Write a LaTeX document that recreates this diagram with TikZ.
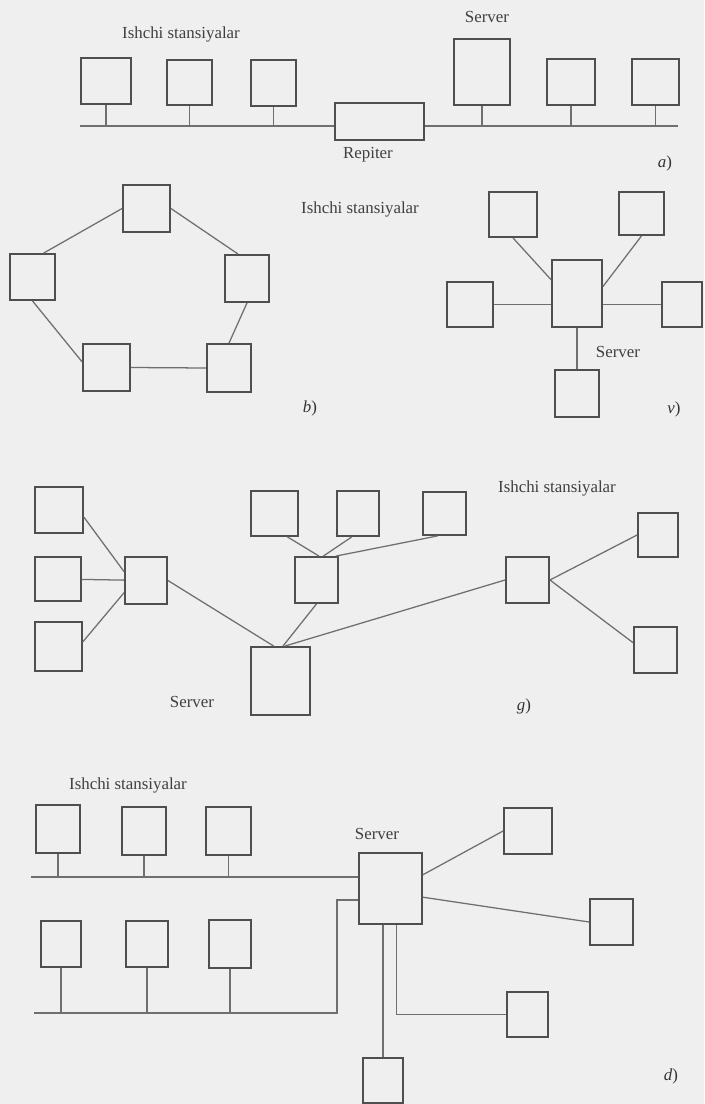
\documentclass[tikz,border=0pt]{standalone}
\usepackage{fontspec}
\setmainfont{Liberation Serif}
\usetikzlibrary{calc}
\definecolor{scanInk}{HTML}{4f4f4f}
\definecolor{scanWire}{HTML}{6f6f6f}
\definecolor{scanPaper}{HTML}{efefef}
\tikzset{
  pc/.style={draw=scanInk, line width=1.3pt, inner sep=0pt},
  wh/.style 2 args={minimum width=#1*0.025cm, minimum height=#2*0.025cm},
  cable/.style={draw=scanWire, line width=0.9pt},
  lbl/.style={font=\fontsize{12}{14}\selectfont, text=black!75, inner sep=1pt},
  tag/.style={font=\fontsize{12}{14}\selectfont, text=black!80, inner sep=1pt},
}
\begin{document}
\begin{tikzpicture}[x=0.025cm,y=-0.025cm]
\fill[scanPaper] (0,0) rectangle (704,1104);
\useasboundingbox (0,0) rectangle (704,1104);

% a) common bus with repeater
\node[lbl] (aWs) at (181,34) {Ishchi stansiyalar};
\node[lbl] (aSrvT) at (487,17) {Server};
\foreach \n/\x/\y/\w/\h in {a1/106/81/50/46, a2/189.5/82.5/45/45, a3/273.5/83/45/46,
    aSrv/482/72/56/66, a5/571/82/48/46, a6/655.5/82/47/46}
  \node[pc,wh={\w}{\h}] (\n) at (\x,\y) {};
\node[pc,wh={89}{37}] (rep) at (379.5,121.5) {};
\node[lbl] (repT) at (368,155) {Repiter};
\node[tag] (aTag) at (665,163) {\textit{a})};
\coordinate (busA) at (80,126);
\coordinate (busB) at (678,126);
\draw[cable] (busA) -- (busA -| rep.west);
\draw[cable] (rep.east |- busB) -- (busB);
\foreach \n in {a1,a2,a3,aSrv,a5,a6}
  \draw[cable] (\n.south) -- (\n.south |- busA);

% b) ring
\node[lbl] (bWs) at (360,209) {Ishchi stansiyalar};
\foreach \n/\x/\y/\w/\h in {bt/146.5/208.5/47/47, bl/32.5/277/45/46, br/247/278.5/44/47,
    bbl/106.5/367.5/47/47, bbr/229/368/44/48}
  \node[pc,wh={\w}{\h}] (\n) at (\x,\y) {};
\draw[cable] (bt.west) -- (bl.65);
\draw[cable] (bt.east) -- (br.110);
\draw[cable] (bl.south) -- (bbl.167);
\draw[cable] (br.south) -- (bbr.north);
\draw[cable] (bbl.east) -- (bbr.west);
\node[tag] (bTag) at (310,408) {\textit{b})};

% v) star
\foreach \n/\x/\y/\w/\h in {vtl/513/214.5/48/45, vtr/641.5/213.5/45/43, vc/577/293.5/50/67,
    vl/470/304.5/46/45, vr/682/304.5/40/45, vb/577/393.5/44/47}
  \node[pc,wh={\w}{\h}] (\n) at (\x,\y) {};
\draw[cable] (vtl.south) -- (vc.152);
\draw[cable] (vtr.south) -- (vc.15);
\draw[cable] (vl.east) -- (vl.east -| vc.west);
\draw[cable] (vr.west -| vc.east) -- (vr.west);
\draw[cable] (vc.south) -- (vb.north);
\node[lbl] (vSrvT) at (618,352) {Server};
\node[tag] (vTag) at (674,409) {\textit{v})};

% g) tree
\node[lbl] (gWs) at (557,488) {Ishchi stansiyalar};
\foreach \n/\x/\y/\w/\h in {gl1/59/510/48/46, gl2/58/579/46/44, gl3/58.5/646.5/47/49,
    gh1/146/580.5/42/47, gt1/274.5/513.5/47/45, gt2/358/513.5/42/45, gt3/444.5/513.5/43/43,
    gh2/316.5/580/43/46, gsrv/280.5/681/59/68, gh3/527.5/580/43/46,
    gr1/658/535/40/44, gr2/655.5/650/43/46}
  \node[pc,wh={\w}{\h}] (\n) at (\x,\y) {};
\draw[cable] (gl1.-16) -- (gh1.158);
\draw[cable] (gl2) -- (gh1);
\draw[cable] (gl3.11) -- (gh1.-151);
\draw[cable] (gh1.east) -- (gsrv.101);
\draw[cable] (gt1.-61) -- (gh2.84);
\draw[cable] (gt2.-105) -- (gh2.74);
\draw[cable] (gt3.-107) -- (gh2.51);
\draw[cable] (gh2.south) -- (gsrv.86);
\draw[cable] (gsrv.83) -- (gh3.west);
\draw[cable] (gh3.east) -- (gr1.west);
\draw[cable] (gh3.east) -- (gr2.162);
\node[lbl] (gSrvT) at (192,702) {Server};
\node[tag] (gTag) at (524,706) {\textit{g})};

% d) mixed
\node[lbl] (dWs) at (128,785) {Ishchi stansiyalar};
\node[lbl] (dSrvT) at (377,834) {Server};
\foreach \n/\x/\y/\w/\h in {dt1/58/829/44/48, dt2/144/831/44/48, dt3/228.5/831/45/48,
    dsrv/390.5/888.5/63/71, dr1/528/831/48/46, dr2/611.5/922/43/46, dr3/527.5/1014.5/41/45,
    dbot/383/1080.5/40/45, db1/61/944/40/46, db2/147/944/42/46, db3/230/944/42/48}
  \node[pc,wh={\w}{\h}] (\n) at (\x,\y) {};
\coordinate (dBusT) at (31,877);
\coordinate (dBusB) at (34,1013);
\coordinate (dKnee) at (337,900);
\draw[cable] (dBusT) -- (dBusT -| dsrv.west);
\draw[cable] (dBusB) -| (dKnee) -- (dKnee -| dsrv.west);
\foreach \n in {dt1,dt2,dt3}
  \draw[cable] (\n.south) -- (\n.south |- dBusT);
\foreach \n in {db1,db2,db3}
  \draw[cable] (\n.south) -- (\n.south |- dBusB);
\draw[cable] (dsrv.23) -- (dr1.west);
\draw[cable] (dsrv.-15) -- (dr2.west);
\draw[cable] (dbot.north |- dsrv.south) -- (dbot.north);
\draw[cable] (dsrv.-81) |- (dr3.west);
\node[tag] (dTag) at (671,1076) {\textit{d})};
\end{tikzpicture}
\end{document}
